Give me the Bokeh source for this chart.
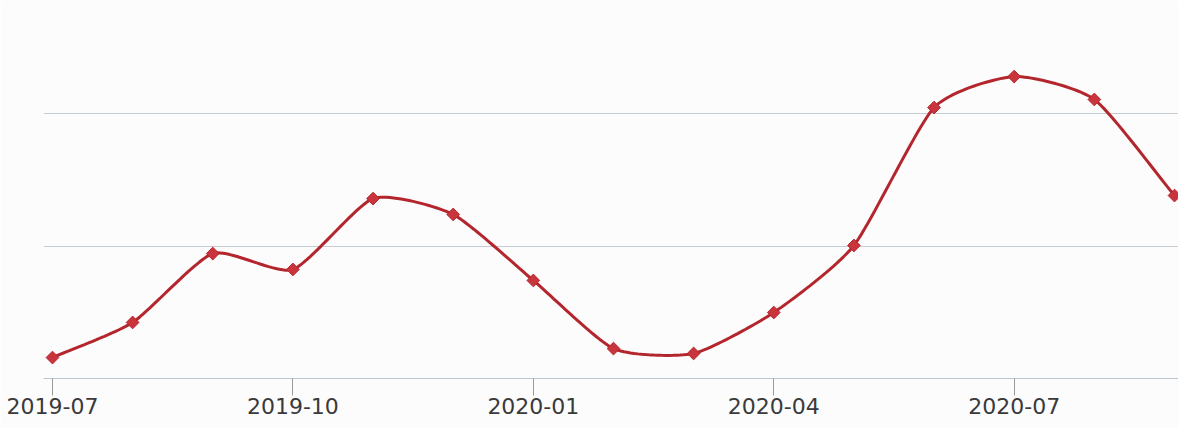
import numpy as np
from bokeh.plotting import figure
from bokeh.models import FixedTicker, Range1d
from bokeh.embed import file_html
from bokeh.resources import INLINE

months = ["2019-07", "2019-08", "2019-09", "2019-10", "2019-11", "2019-12",
          "2020-01", "2020-02", "2020-03", "2020-04", "2020-05", "2020-06",
          "2020-07", "2020-08", "2020-09"]
values = [15.8, 42.3, 94.3, 82.3, 135.8, 123.8, 74.0, 22.6, 18.9, 49.8,
          100.4, 204.5, 227.9, 210.6, 138.1]
tick_labels = ["2019-07", "2019-10", "2020-01", "2020-04", "2020-07"]

xs = np.arange(len(months), dtype=float)
ys = np.array(values, dtype=float)

# Cardinal-spline smoothing of the line path (rendering only)
def smooth(x, y, s=0.6, n=24):
    x = np.asarray(x); y = np.asarray(y)
    mx = np.zeros_like(x); my = np.zeros_like(y)
    mx[1:-1] = s * (x[2:] - x[:-2]) / 2
    my[1:-1] = s * (y[2:] - y[:-2]) / 2
    mx[0] = s * (x[1] - x[0]); my[0] = s * (y[1] - y[0])
    mx[-1] = s * (x[-1] - x[-2]); my[-1] = s * (y[-1] - y[-2])
    t = np.linspace(0, 1, n, endpoint=False)
    h00 = 2*t**3 - 3*t**2 + 1
    h10 = t**3 - 2*t**2 + t
    h01 = -2*t**3 + 3*t**2
    h11 = t**3 - t**2
    ox, oy = [], []
    for i in range(len(x) - 1):
        ox.extend(h00*x[i] + h10*mx[i] + h01*x[i+1] + h11*mx[i+1])
        oy.extend(h00*y[i] + h10*my[i] + h01*y[i+1] + h11*my[i+1])
    ox.append(x[-1]); oy.append(y[-1])
    return ox, oy

sx, sy = smooth(xs, ys)

p = figure(width=1178, height=428, output_backend="svg", toolbar_location=None,
           x_range=Range1d(-0.112, 14.05), y_range=Range1d(0, 285.3),
           min_border_left=43, min_border_right=0, min_border_top=0,
           min_border_bottom=50, background_fill_color="#fdfcfd",
           border_fill_color="#fdfcfd")
p.outline_line_color = None

p.line(sx, sy, line_color="#b3262e", line_width=3)
p.scatter(xs, ys, marker="square", angle=np.pi/4, size=9, fill_color="#c9353d",
          line_color="#b8262e", line_width=1)

p.yaxis.visible = False
p.xgrid.visible = False
p.ygrid.ticker = FixedTicker(ticks=[100, 200])
p.ygrid.grid_line_color = "#c5ccd3"
p.ygrid.grid_line_width = 1

ticks = [months.index(m) for m in tick_labels]
p.xaxis.ticker = FixedTicker(ticks=ticks)
p.xaxis.major_label_overrides = {t: lab for t, lab in zip(ticks, tick_labels)}
p.xaxis.minor_tick_line_color = None
p.xaxis.axis_line_color = "#b7c6d0"
p.xaxis.axis_line_width = 1
p.xaxis.major_tick_line_color = "#9a9a9a"
p.xaxis.major_tick_in = 0
p.xaxis.major_tick_out = 17
p.xaxis.major_label_standoff = 2
p.xaxis.major_label_text_font = "DejaVu Sans"
p.xaxis.major_label_text_font_size = "22px"
p.xaxis.major_label_text_color = "#3a3a3a"

open("out.html", "w").write(file_html(p, INLINE))
